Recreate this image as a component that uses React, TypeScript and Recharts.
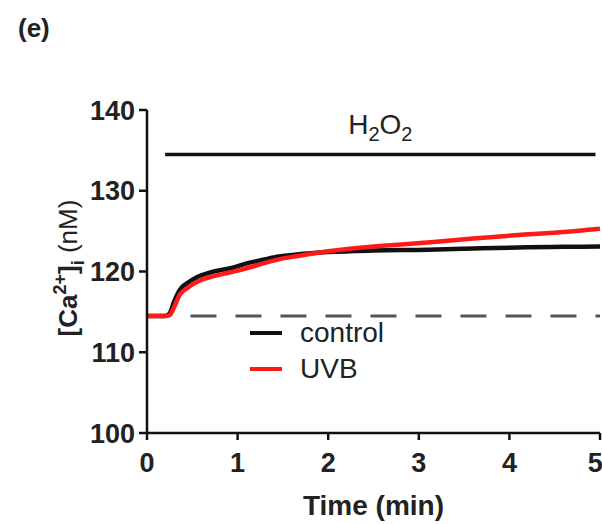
import React from 'react';
import {
  LineChart,
  Line,
  XAxis,
  YAxis,
  ReferenceLine,
  Legend,
} from 'recharts';

// time in minutes, [Ca2+]i in nM
const timeMin = [0, 0.2, 0.25, 0.3, 0.36, 0.45, 0.55, 0.7, 0.92, 1.1, 1.28, 1.45, 1.65, 2.0, 2.5, 3.1, 3.6, 4.2, 4.6, 5];
const controlCa = [114.5, 114.5, 114.8, 116.3, 117.7, 118.6, 119.3, 119.9, 120.4, 121.0, 121.45, 121.85, 122.1, 122.4, 122.6, 122.7, 122.85, 123.0, 123.05, 123.1];
const uvbCa = [114.5, 114.5, 114.6, 115.6, 117.1, 118.0, 118.7, 119.3, 119.9, 120.4, 121.0, 121.5, 121.9, 122.5, 123.1, 123.6, 124.1, 124.6, 124.9, 125.3];

const xTicks = [0, 1, 2, 3, 4, 5];
const yTicks = [100, 110, 120, 130, 140];

// H2O2 application bar and basal level
const h2o2Start = 0.2;
const h2o2End = 4.95;
const h2o2Level = 134.5;
const baselineStart = 0.48;
const baselineLevel = 114.5;

const data = timeMin.map((t, i) => ({ t, control: controlCa[i], uvb: uvbCa[i] }));

const FONT = '"Liberation Sans", Arial, sans-serif';

const H2O2Label = (props: any) => {
  const vb = props.viewBox || {};
  const cx = vb.x + (vb.width || 0) / 2;
  return (
    <text x={cx} y={vb.y - 20} textAnchor="middle" fontFamily={FONT} fontSize={28} fill="#222">
      H<tspan dy={7} fontSize={20}>2</tspan>
      <tspan dy={-7}>O</tspan>
      <tspan dy={7} fontSize={20}>2</tspan>
    </text>
  );
};

const YLabel = () => (
  <text
    x={0}
    y={0}
    transform="translate(77, 268) rotate(-90)"
    textAnchor="middle"
    fontFamily={FONT}
    fontSize={26}
    fontWeight="bold"
    fill="#222"
  >
    [Ca<tspan dy={-11} fontSize={18}>2+</tspan>
    <tspan dy={11}>]</tspan>
    <tspan dy={7} fontSize={18}>i</tspan>
    <tspan dy={-7} fontWeight="normal"> (nM)</tspan>
  </text>
);

const LegendBox = () => (
  <div style={{ fontFamily: FONT, fontSize: 28, color: '#222', lineHeight: '36px' }}>
    {[
      { name: 'control', color: '#111' },
      { name: 'UVB', color: '#ff1a1a' },
    ].map((it) => (
      <div key={it.name} style={{ display: 'flex', alignItems: 'center', height: 36 }}>
        <span style={{ display: 'inline-block', width: 32, height: 4, background: it.color, marginRight: 18 }} />
        <span>{it.name}</span>
      </div>
    ))}
  </div>
);

export default function App() {
  return (
    <div style={{ position: 'absolute', left: 0, top: 0, width: 602, height: 524, background: '#fff' }}>
      <div
        style={{
          position: 'absolute',
          left: 18,
          top: 13,
          fontFamily: FONT,
          fontSize: 26,
          fontWeight: 'bold',
          color: '#222',
        }}
      >
        (e)
      </div>
      <LineChart
        width={602}
        height={524}
        data={data}
        margin={{ top: 110, right: 2, left: 0, bottom: 0 }}
      >
        <XAxis
          dataKey="t"
          type="number"
          domain={[0, 5]}
          ticks={xTicks}
          allowDataOverflow
          height={91}
          stroke="#111"
          strokeWidth={2.5}
          tickSize={7}
          tickMargin={13}
          tick={{ fill: '#222', fontSize: 27, fontWeight: 'bold', fontFamily: FONT }}
          label={{
            value: 'Time (min)',
            position: 'insideBottom',
            offset: 9,
            fill: '#222',
            fontSize: 28,
            fontWeight: 'bold',
            fontFamily: FONT,
          }}
        />
        <YAxis
          type="number"
          domain={[100, 140]}
          ticks={yTicks}
          width={147}
          stroke="#111"
          strokeWidth={2.5}
          tickSize={8}
          tickMargin={4}
          tick={{ fill: '#222', fontSize: 27, fontWeight: 'bold', fontFamily: FONT }}
          label={<YLabel />}
        />
        <ReferenceLine
          segment={[{ x: h2o2Start, y: h2o2Level }, { x: h2o2End, y: h2o2Level }]}
          stroke="#111"
          strokeWidth={3.5}
          ifOverflow="visible"
          label={<H2O2Label />}
        />
        <ReferenceLine
          segment={[{ x: baselineStart, y: baselineLevel }, { x: 5, y: baselineLevel }]}
          stroke="#555"
          strokeWidth={3}
          strokeDasharray="26 19"
          ifOverflow="visible"
        />
        <Legend
          layout="vertical"
          verticalAlign="middle"
          align="center"
          wrapperStyle={{ left: 250, top: 315, width: 200 }}
          content={<LegendBox />}
        />
        <Line
          type="monotone"
          dataKey="control"
          name="control"
          stroke="#111"
          strokeWidth={4.5}
          dot={false}
          isAnimationActive={false}
        />
        <Line
          type="monotone"
          dataKey="uvb"
          name="UVB"
          stroke="#ff1a1a"
          strokeWidth={4.5}
          dot={false}
          isAnimationActive={false}
        />
      </LineChart>
    </div>
  );
}
